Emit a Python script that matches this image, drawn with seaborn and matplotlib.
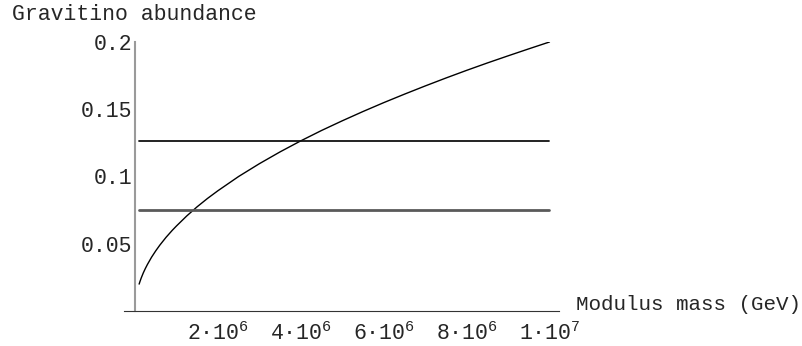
import matplotlib
matplotlib.use("Agg")
import matplotlib.pyplot as plt
import seaborn as sns
import pandas as pd
import numpy as np
from matplotlib.ticker import FixedLocator

# ---- data ----
mass_e6 = [0.1, 0.12, 0.15, 0.2, 0.25, 0.3, 0.4, 0.5, 0.6, 0.75, 0.9, 1.0,
           1.25, 1.5, 1.75, 2.0, 2.5, 3.0, 3.5, 4.0, 4.5, 5.0, 5.5, 6.0,
           6.5, 7.0, 7.5, 8.0, 8.5, 9.0, 9.5, 10.0]
abundance = [0.0200, 0.0219, 0.0245, 0.0283, 0.0316, 0.0346, 0.0400, 0.0447,
             0.0490, 0.0548, 0.0600, 0.0632, 0.0707, 0.0775, 0.0837, 0.0894,
             0.1000, 0.1095, 0.1183, 0.1265, 0.1342, 0.1414, 0.1483, 0.1549,
             0.1612, 0.1673, 0.1732, 0.1789, 0.1844, 0.1897, 0.1949, 0.2000]
band_levels = [0.1266, 0.075]
band_x_e6 = [0.1, 10.0]
x_major_e6 = [2, 4, 6, 8, 10]
x_tick_labels = [r"$2·10^{6}$", r"$4·10^{6}$", r"$6·10^{6}$",
                 r"$8·10^{6}$", r"$1·10^{7}$"]
y_major = [0.05, 0.1, 0.15, 0.2]
y_tick_labels = ["0.05", "0.1", "0.15", "0.2"]
x_label = "Modulus mass (GeV)"
y_label = "Gravitino abundance"

sns.set_style("white")
plt.rcParams["font.family"] = ["Liberation Mono", "DejaVu Sans"]
plt.rcParams["mathtext.fontset"] = "custom"
plt.rcParams["mathtext.rm"] = "Liberation Mono"
plt.rcParams["mathtext.it"] = "Liberation Mono"
plt.rcParams["mathtext.bf"] = "Liberation Mono"

FS = 15.5

fig = plt.figure(figsize=(8.03, 3.46), dpi=100)
ax = fig.add_axes([124 / 803, 35 / 346, (559 - 124) / 803, 269 / 346])

curve = pd.DataFrame({"m": np.array(mass_e6) * 1e6, "y": abundance})
sns.lineplot(data=curve, x="m", y="y", ax=ax, color="black", lw=1.0,
             sort=True, estimator=None)

band_styles = [("#111111", 1.3), ("#5a5a5a", 2.0)]
for lvl, (c, lw) in zip(band_levels, band_styles):
    df = pd.DataFrame({"m": np.array(band_x_e6) * 1e6, "y": [lvl, lvl]})
    sns.lineplot(data=df, x="m", y="y", ax=ax, color=c, lw=lw, estimator=None)

ax.set_xlim(-0.265e6, 10.23e6)
ax.set_ylim(0, 0.2)

for s in ["top", "right"]:
    ax.spines[s].set_visible(False)
ax.spines["left"].set_position(("data", 0))
ax.spines["bottom"].set_position(("data", 0))
ax.spines["left"].set_color("#9a9a9a")
ax.spines["left"].set_linewidth(1.5)
ax.spines["bottom"].set_color("#333333")
ax.spines["bottom"].set_linewidth(0.8)

ax.xaxis.set_major_locator(FixedLocator([v * 1e6 for v in x_major_e6]))
ax.set_xticklabels(x_tick_labels, fontsize=FS)
ax.xaxis.set_minor_locator(FixedLocator([v * 0.5e6 for v in range(1, 21) if v % 4 != 0]))
ax.yaxis.set_major_locator(FixedLocator(y_major))
ax.set_yticklabels(y_tick_labels, fontsize=FS)
ax.yaxis.set_minor_locator(FixedLocator([i / 100 for i in range(1, 20) if i % 5 != 0]))

ax.tick_params(axis="x", which="major", direction="in", length=3.5, width=0.6,
               color="#444444", pad=8)
ax.tick_params(axis="x", which="minor", direction="in", length=2, width=0.6,
               color="#444444")
ax.tick_params(axis="y", which="major", direction="in", length=4, width=0.8,
               color="#9a9a9a", pad=2)
ax.tick_params(axis="y", which="minor", direction="in", length=2.5, width=0.8,
               color="#9a9a9a")

ax.set_xlabel("")
ax.set_ylabel("")
fig.text(12 / 803, 1 - 15 / 346, y_label, fontsize=FS, ha="left", va="center")
fig.text(801 / 803, 1 - 304 / 346, x_label, fontsize=15, ha="right", va="center")

fig.savefig("out.png", dpi=100, facecolor="white")
